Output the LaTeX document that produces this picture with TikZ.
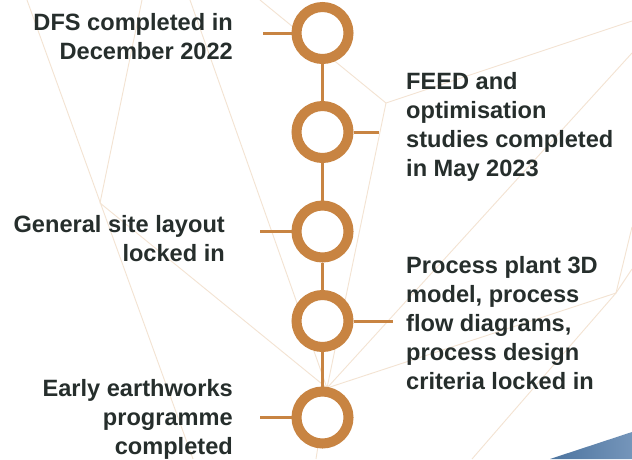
\documentclass[tikz,border=0pt]{standalone}
\usepackage{fontspec}
\setmainfont{Liberation Sans}
\definecolor{ochre}{HTML}{C88442}
\definecolor{ink}{HTML}{262E2C}
\definecolor{faint}{HTML}{F3E3D2}
\definecolor{blueL}{HTML}{4C749F}
\definecolor{blueR}{HTML}{7595BA}
\tikzset{
  milestone/.style={circle, draw=ochre, line width=10pt, fill=white, minimum size=52pt, inner sep=0pt},
  link/.style={draw=ochre, line width=3pt},
  bgline/.style={draw=faint, line width=0.9pt},
  txt/.style={text=ink, font=\fontsize{23.6}{29}\selectfont\bfseries, inner sep=0pt}
}
\begin{document}
\begin{tikzpicture}[x=1pt,y=-1pt]
\useasboundingbox (0,0) rectangle (632,459);
\fill[white] (0,0) rectangle (632,459);
% background network
\coordinate (va) at (100,203);
\coordinate (vb) at (386,103);
\coordinate (vc) at (616,293);
\coordinate (cv) at (327,388);
\draw[bgline] (27,0) -- (193,459);
\draw[bgline] (142,0) -- (va) -- (cv);
\draw[bgline] (190,0) -- (cv);
\draw[bgline] (260,0) -- (vb) -- (632,21);
\draw[bgline] (vb) -- (cv);
\draw[bgline] (632,53) -- (cv);
\draw[bgline] (vc) -- (cv);
\draw[bgline] (632,227) -- (vc);
\draw[bgline] (632,269) -- (vc);
\draw[bgline] (vc) -- (472,459);
\draw[bgline] (cv) -- (316,459);
% blue corner
\shade[left color=blueL, right color=blueR] (550,459) -- (632,432) -- (632,459) -- cycle;
% milestones
\node[milestone] (c1) at (322.5,33) {};
\node[milestone] (c2) at (322.5,132) {};
\node[milestone] (c3) at (322.5,231.5) {};
\node[milestone] (c4) at (322.5,321) {};
\node[milestone] (c5) at (322.5,417.5) {};
\draw[link] (c1) -- (c2);
\draw[link] (c2) -- (c3);
\draw[link] (c3) -- (c4);
\draw[link] (c4) -- (c5);
\coordinate (t1) at (263,33);
\coordinate (t2) at (379,132);
\coordinate (t3) at (260,231.5);
\coordinate (t4) at (393,321);
\coordinate (t5) at (260,417.5);
\draw[link] (c1) -- (t1);
\draw[link] (c2) -- (t2);
\draw[link] (c3) -- (t3);
\draw[link] (c4) -- (t4);
\draw[link] (c5) -- (t5);
% labels (base anchor = baseline of last line)
\node[txt, align=right, anchor=base east] (l1) at (233,59.3) {DFS completed in\\December 2022};
\node[txt, align=left, anchor=base west] (l2) at (406,176.7) {FEED and\\optimisation\\studies completed\\in May 2023};
\node[txt, align=right, anchor=base east] (l3) at (225,261) {General site layout\\locked in};
\node[txt, align=left, anchor=base west] (l4) at (406,389) {Process plant 3D\\model, process\\flow diagrams,\\process design\\criteria locked in};
\node[txt, align=right, anchor=base east] (l5) at (233,454) {Early earthworks\\programme\\completed};
\end{tikzpicture}
\end{document}
